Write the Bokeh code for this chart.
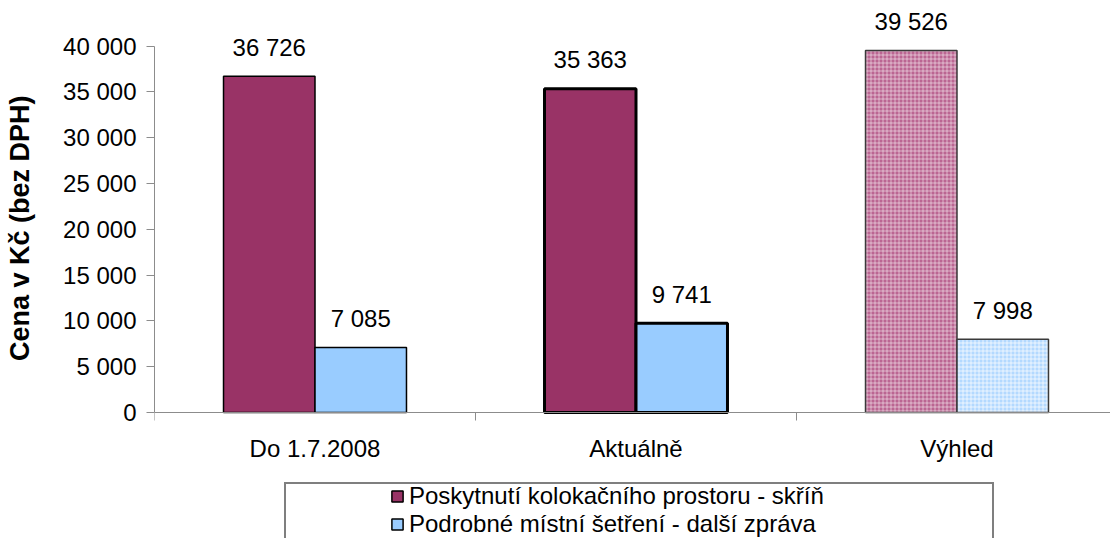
from bokeh.plotting import figure
from bokeh.models import ColumnDataSource, Range1d, FixedTicker, Legend, LegendItem, Span
from bokeh.core.properties import value
from bokeh.embed import file_html
from bokeh.resources import INLINE

# ---- data ----
categories = ["Do 1.7.2008", "Aktuálně", "Výhled"]
kolokace = [36726, 35363, 39526]
setreni = [7085, 9741, 7998]
series_names = ["Poskytnutí kolokačního prostoru - skříň",
                "Podrobné místní šetření - další zpráva"]
y_ticks = [0, 5000, 10000, 15000, 20000, 25000, 30000, 35000, 40000]
y_title = "Cena v Kč (bez DPH)"


def fmt(v):
    return f"{v:,}".replace(",", " ")


FONT = "Liberation Sans"
FS = "24px"
AXIS_GRAY = "#8c8c8c"

# ---- geometry (pixels) ----
W, H = 1110, 538
LEFT = 154          # plot frame left
ZERO_PX = 412       # screen y of value 0
TOP_PX = 45.7       # screen y of value 40 000
CAT_PX = 321        # width of one category
PX_PER_UNIT = (ZERO_PX - TOP_PX) / y_ticks[-1]
TICK_LEN = 8 / PX_PER_UNIT

centers = [i + 0.5 for i in range(len(categories))]
bounds = list(range(len(categories) + 1))
BAR_W = 0.285
OFF = BAR_W / 2

src1 = ColumnDataSource(dict(
    x=[c - OFF for c in centers], top=kolokace, label=[fmt(v) for v in kolokace],
    lw=[1.5, 3.0, 1.5], lc=["#000000", "#000000", "#3a3a3a"],
    fc=["#993366", "#993366", "#bb6592"], hp=[" ", " ", "cross"]))
src2 = ColumnDataSource(dict(
    x=[c + OFF for c in centers], top=setreni, label=[fmt(v) for v in setreni],
    lw=[1.5, 3.0, 1.5], lc=["#000000", "#000000", "#3a3a3a"],
    fc=["#99ccff", "#99ccff", "#b3d9ff"], hp=[" ", " ", "cross"]))
cat_src = ColumnDataSource(dict(x=centers, y=[0] * len(centers), label=categories))
tick_src = ColumnDataSource(dict(x=bounds, y0=[0] * len(bounds),
                                 y1=[-TICK_LEN] * len(bounds)))

p = figure(width=W, height=H, output_backend="svg", toolbar_location=None,
           x_range=Range1d(0, (W - LEFT) / CAT_PX),
           y_range=Range1d(-(H - ZERO_PX) / PX_PER_UNIT, ZERO_PX / PX_PER_UNIT),
           x_axis_location=None,
           min_border_left=LEFT, min_border_right=0, min_border_top=0,
           min_border_bottom=0)
p.outline_line_color = None
p.grid.visible = False
p.background_fill_color = "white"

r1 = p.vbar(x="x", top="top", width=BAR_W, source=src1, fill_color="fc",
            line_color="lc", line_width="lw", hatch_pattern="hp",
            hatch_color="white", hatch_scale=4, hatch_weight=1, hatch_alpha=0.5)
r2 = p.vbar(x="x", top="top", width=BAR_W, source=src2, fill_color="fc",
            line_color="lc", line_width="lw", hatch_pattern="hp",
            hatch_color="white", hatch_scale=4, hatch_weight=1, hatch_alpha=0.7)

for s in (src1, src2):
    p.text(x="x", y="top", text="label", source=s, text_font=value(FONT),
           text_font_size=FS, text_align="center", text_baseline="middle",
           y_offset=-29, text_color="black")

# category (x) axis: baseline, boundary ticks, labels
p.add_layout(Span(location=0, dimension="width", line_color=AXIS_GRAY, line_width=1))
p.segment(x0="x", y0="y0", x1="x", y1="y1", source=tick_src,
          line_color=AXIS_GRAY, line_width=1)
p.text(x="x", y="y", text="label", source=cat_src, text_font=value(FONT),
       text_font_size=FS, text_align="center", text_baseline="middle",
       y_offset=36, text_color="black")

# value (y) axis
ya = p.yaxis[0]
ya.ticker = FixedTicker(ticks=y_ticks, minor_ticks=[])
ya.major_label_overrides = {t: fmt(t) for t in y_ticks}
ya.bounds = (0, y_ticks[-1])
ya.major_tick_out = 8
ya.major_tick_in = 0
ya.major_tick_line_color = AXIS_GRAY
ya.axis_line_color = AXIS_GRAY
ya.major_label_standoff = 10
ya.major_label_text_font = FONT
ya.major_label_text_font_size = FS
ya.major_label_text_color = "black"
# leading no-break spaces shift the centred title onto the 0..40 000 span
ya.axis_label = "\u00a0" * 11 + y_title
ya.axis_label_text_font = FONT
ya.axis_label_text_font_size = "27px"
ya.axis_label_text_font_style = "bold"
ya.axis_label_text_color = "black"
ya.axis_label_standoff = 25

# legend frame (box only, its bottom runs off the picture)
dummy = p.vbar(x=[], top=[], width=0.1, fill_alpha=0, line_alpha=0)
box = Legend(items=[LegendItem(label=value(" "), renderers=[dummy])],
             location=(130, -28), margin=0, padding=0, spacing=0,
             glyph_width=698, glyph_height=80, label_standoff=0, label_width=8,
             label_text_font_size="10px",
             border_line_color="black", border_line_width=2,
             background_fill_color="white", background_fill_alpha=1)
p.add_layout(box, "center")

legend = Legend(items=[LegendItem(label=series_names[0], renderers=[r1]),
                       LegendItem(label=series_names[1], renderers=[r2])],
                location=(236, 0), margin=0, padding=0, spacing=0,
                glyph_width=14, glyph_height=14, label_standoff=5,
                label_text_font=FONT, label_text_font_size="24px",
                label_text_color="black", border_line_color=None,
                background_fill_alpha=0)
p.add_layout(legend, "center")

open("out.html", "w").write(file_html(p, INLINE))
